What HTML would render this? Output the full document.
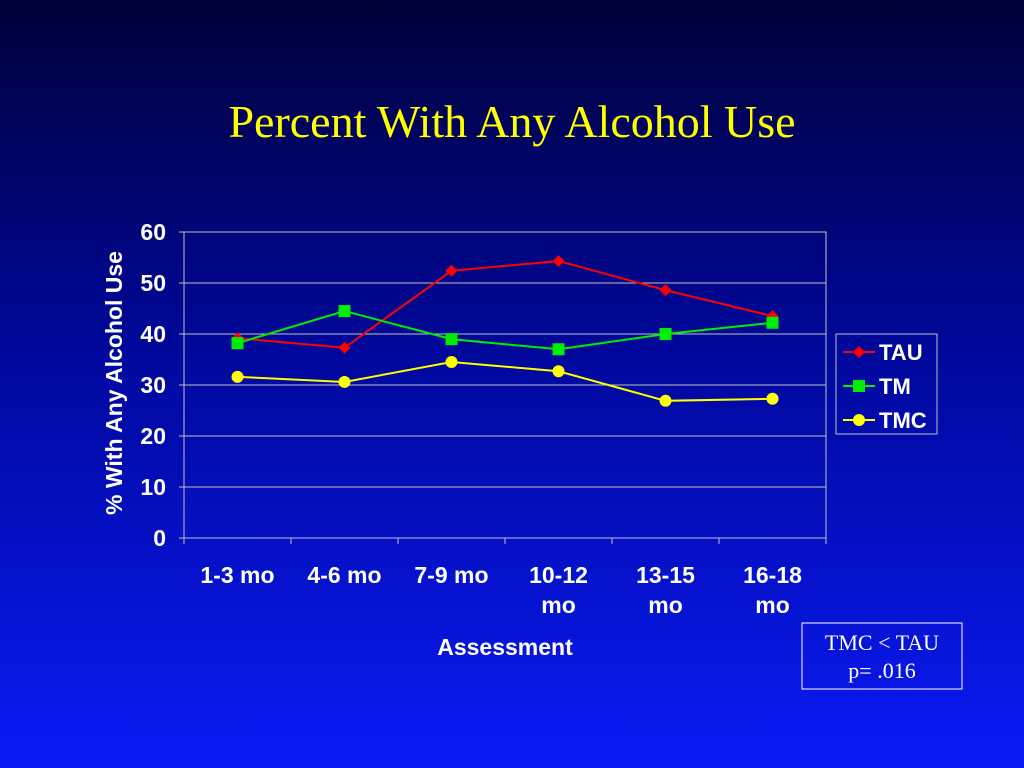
<!DOCTYPE html>
<html><head><meta charset="utf-8"><style>
html,body{margin:0;padding:0}
body{width:1024px;height:768px;overflow:hidden;background:linear-gradient(to bottom,#000038 0%,#00089a 45%,#0a1af5 100%);font-family:"Liberation Sans",sans-serif}
svg{position:absolute;left:0;top:0}
</style></head><body>
<svg width="1024" height="768">
<text x="512" y="137" text-anchor="middle" fill="#ffff00" font-family="Liberation Serif,serif" font-size="46">Percent With Any Alcohol Use</text>
<g id="grid"></g>
<rect x="184" y="232" width="642" height="306" fill="none" stroke="#c0c0c0" stroke-width="1"/>
<g id="axes"></g>
<g id="series"></g>
<text transform="translate(122,383) rotate(-90)" text-anchor="middle" fill="#fff" font-weight="bold" font-size="23">% With Any Alcohol Use</text>
<text x="505" y="655" text-anchor="middle" fill="#fff" font-weight="bold" font-size="23">Assessment</text>
<g>
<rect x="836" y="334" width="101" height="100" fill="none" stroke="#c0c0c0" stroke-width="1"/>
<g id="legend"></g>
</g>
<g>
<rect x="802" y="623" width="160" height="66" fill="none" stroke="#fff" stroke-width="1"/>
<text x="882" y="650" text-anchor="middle" fill="#fff" font-family="Liberation Serif,serif" font-size="22">TMC &lt; TAU</text>
<text x="882" y="678" text-anchor="middle" fill="#fff" font-family="Liberation Serif,serif" font-size="22">p= .016</text>
</g>
</svg>
<script>
const categories=[["1-3 mo"],["4-6 mo"],["7-9 mo"],["10-12","mo"],["13-15","mo"],["16-18","mo"]];
const yTicks=[0,10,20,30,40,50,60];
const tauValues=[39.2,37.3,52.4,54.3,48.6,43.5];
const tmValues=[38.2,44.5,39.0,37.0,40.0,42.2];
const tmcValues=[31.6,30.6,34.5,32.7,26.9,27.3];
const seriesNames=["TAU","TM","TMC"];
const NS="http://www.w3.org/2000/svg";
const X0=184,X1=826,Y0=538,Y1=232,YMAX=60;
const bw=(X1-X0)/categories.length;
function xs(i){return X0+bw*(i+0.5);}
function ys(v){return Y0-(v/YMAX)*(Y0-Y1);}
function mk(t,a,p){const e=document.createElementNS(NS,t);for(const k in a)e.setAttribute(k,a[k]);p.appendChild(e);return e;}
const grid=document.getElementById('grid'),axes=document.getElementById('axes'),ser=document.getElementById('series'),leg=document.getElementById('legend');
yTicks.forEach(v=>{
 if(v>0){const g=mk('line',{x1:X0,x2:X1,y1:ys(v),y2:ys(v),stroke:'#c0c0c0','stroke-width':1},grid);
 
 }
 mk('line',{x1:X0-5,x2:X0,y1:ys(v),y2:ys(v),stroke:'#c0c0c0'},axes);
 const t=mk('text',{x:X0-18,y:ys(v)+8,'text-anchor':'end',fill:'#fff','font-weight':'bold','font-size':23},axes);
 t.textContent=v;
 
 
});
for(let i=0;i<=categories.length;i++){mk('line',{x1:X0+bw*i,x2:X0+bw*i,y1:Y0,y2:Y0+6,stroke:'#c0c0c0'},axes);}
categories.forEach((c,i)=>{
 c.forEach((s,j)=>{
 const t=mk('text',{x:xs(i),y:583+j*30,'text-anchor':'middle',fill:'#fff','font-weight':'bold','font-size':23},axes);
 t.textContent=s;
 
 
 });
});
const colors=['#ff0000','#00ee00','#ffff00'];
function marker(type,x,y,col,p){
 let m;
 if(type==0)m=mk('polygon',{points:`${x},${y-6} ${x+6},${y} ${x},${y+6} ${x-6},${y}`,fill:col},p);
 else if(type==1)m=mk('rect',{x:x-6,y:y-6,width:12,height:12,fill:col},p);
 else m=mk('circle',{cx:x,cy:y,r:6,fill:col},p);
 return m;
}
[tauValues,tmValues,tmcValues].forEach((vals,k)=>{
 const g=mk('g',{},ser);
 
 
 const pl=mk('polyline',{points:vals.map((v,i)=>xs(i)+','+ys(v)).join(' '),fill:'none',stroke:colors[k],'stroke-width':2},g);
 
 
 vals.forEach((v,i)=>{const m=marker(k,xs(i),ys(v),colors[k],g);
 
 });
 const ly=352+k*34;
 const lg=mk('g',{},leg);
 
 
 mk('line',{x1:843,x2:875,y1:ly,y2:ly,stroke:colors[k],'stroke-width':2},lg);
 marker(k,859,ly,colors[k],lg);
 const t=mk('text',{x:879,y:ly+8,fill:'#fff','font-weight':'bold','font-size':22},lg);
 t.textContent=seriesNames[k];
});
</script>
</body></html>
